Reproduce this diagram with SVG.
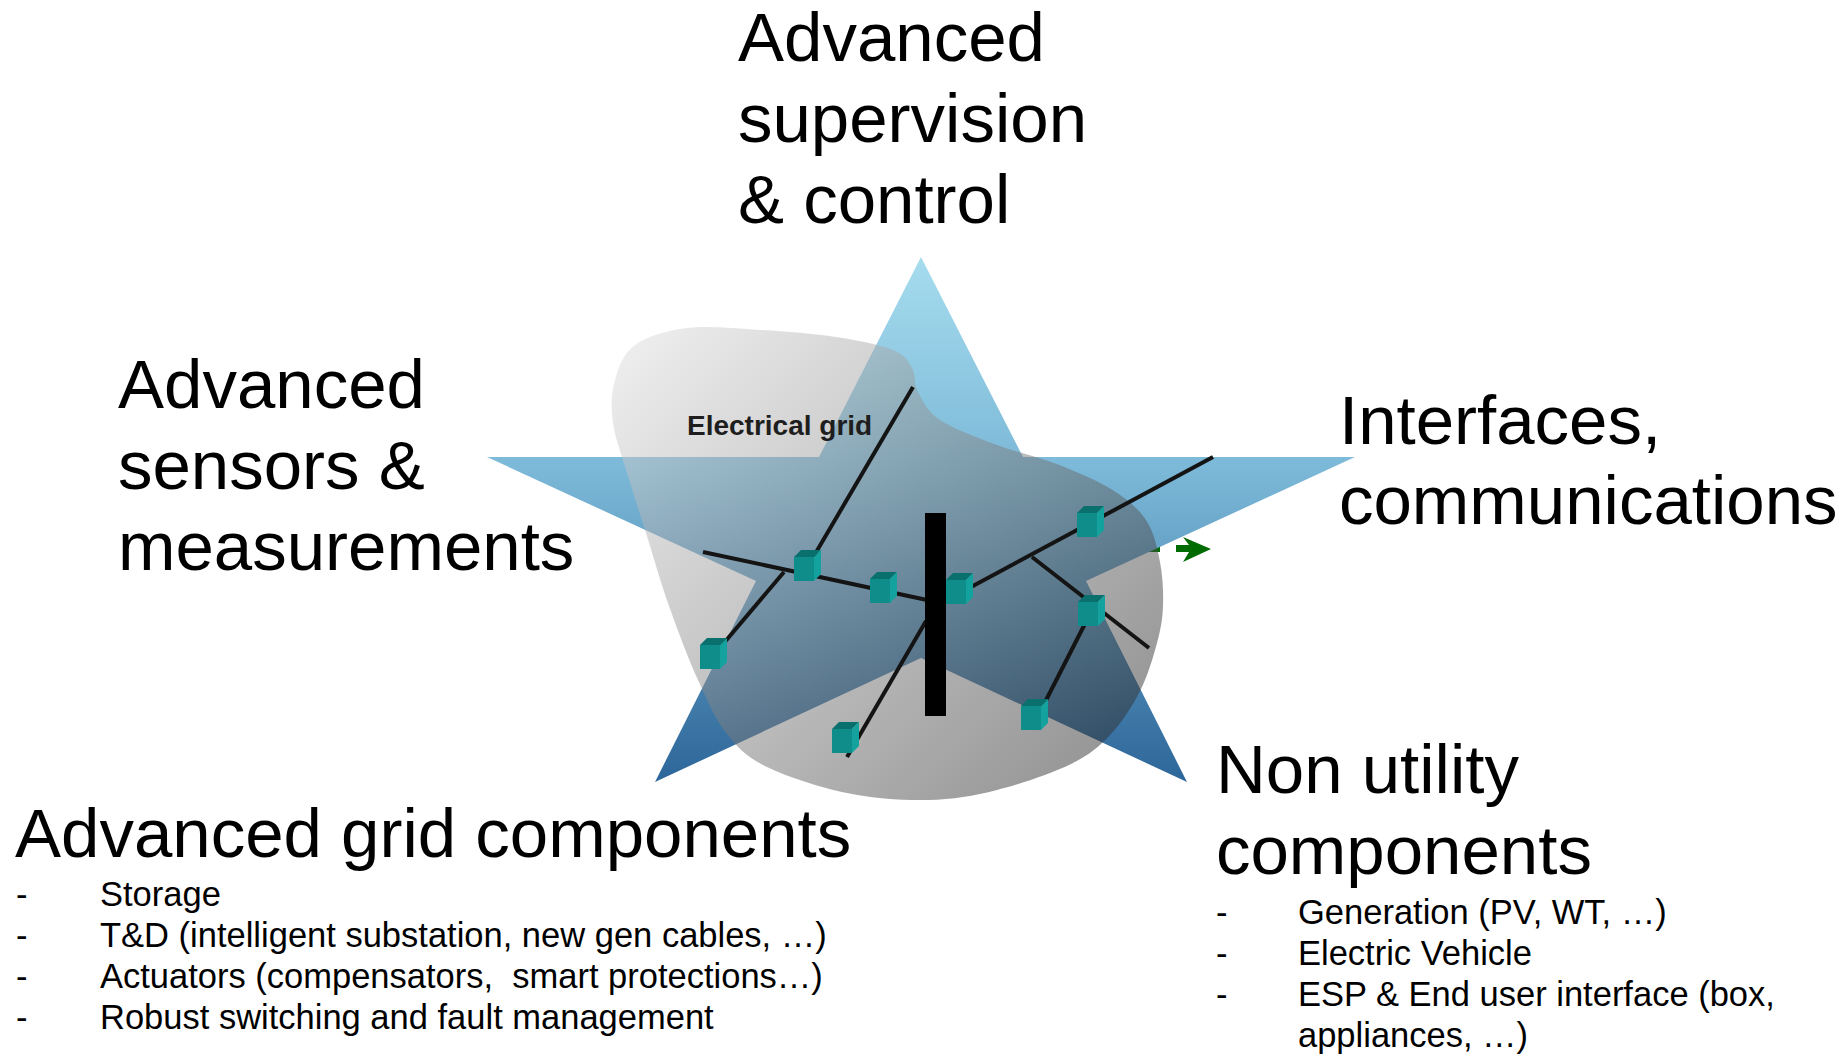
<svg xmlns="http://www.w3.org/2000/svg" width="1847" height="1056" viewBox="0 0 1847 1056">
  <defs>
    <style>
      .big { font-family: "Liberation Sans", Arial, sans-serif; font-size: 69px; fill: #000; }
      .item { font-family: "Liberation Sans", Arial, sans-serif; font-size: 34.5px; fill: #000; white-space: pre; }
      .tag { font-family: "Liberation Sans", Arial, sans-serif; font-size: 28px; font-weight: bold; fill: #1e1e1e; }
      .wire { stroke: #141414; stroke-width: 4; fill: none; }
    </style>
    <linearGradient id="starFill" gradientUnits="userSpaceOnUse" x1="0" y1="257" x2="0" y2="782">
      <stop offset="0" stop-color="#a6dcee"/>
      <stop offset="0.4" stop-color="#7cb9d8"/>
      <stop offset="1" stop-color="#2d6699"/>
    </linearGradient>
    <linearGradient id="blobFill" gradientUnits="userSpaceOnUse" x1="650" y1="330" x2="1110" y2="790">
      <stop offset="0" stop-color="#dadada"/>
      <stop offset="1" stop-color="#262626"/>
    </linearGradient>
    <!-- small 3D box used for every grid device -->
    <g id="cube">
      <polygon points="0,0 7,-7 27,-7 20,0" fill="#0a706d"/>
      <rect x="0" y="0" width="20" height="24" fill="#0f8d8a"/>
      <polygon points="20,0 27,-7 27,17 20,24" fill="#14a29e"/>
    </g>
  </defs>

  <rect width="1847" height="1056" fill="#fff"/>

  <!-- green flow arrow, partly hidden by the star -->
  <g id="flow-arrow" fill="#006b00">
    <rect x="1140" y="545" width="20" height="7"/>
    <polygon points="1176,545 1189,545 1183,537 1211,549 1183,562 1189,552 1176,552"/>
  </g>

  <!-- five-pointed star -->
  <g id="star">
    <polygon points="921,257 1023,457 1355,457 1086,581 1187,782 921,658 655,782 756,581 487,457 819,457" fill="url(#starFill)"/>
  </g>

  <!-- electrical grid area -->
  <g id="grid-area">
    <path fill="url(#blobFill)" fill-opacity="0.5" d="M687,328 C707.8,325.5 735.2,328.5 760,330 C784.8,331.5 813.8,333.7 836,337 C858.2,340.3 880.3,344.8 893,350 C905.7,355.2 907.8,361 912,368 C916.2,375 913.3,383.3 918,392 C922.7,400.7 926.8,411.2 940,420 C953.2,428.8 978,437.8 997,445 C1016,452.2 1035,455.7 1054,463 C1073,470.3 1095.7,479.5 1111,489 C1126.3,498.5 1137.8,507.8 1146,520 C1154.2,532.2 1157.2,547.7 1160,562 C1162.8,576.3 1163.5,592.5 1163,606 C1162.5,619.5 1160.8,628.8 1157,643 C1153.2,657.2 1147.7,675.8 1140,691 C1132.3,706.2 1122.5,721.8 1111,734 C1099.5,746.2 1090,754.7 1071,764 C1052,773.3 1020.8,784 997,790 C973.2,796 953,799.5 928,800 C903,800.5 873.8,798.5 847,793 C820.2,787.5 787,776.8 767,767 C747,757.2 738.5,748.5 727,734 C715.5,719.5 707.7,701.3 698,680 C688.3,658.7 677.7,630.5 669,606 C660.3,581.5 652.7,554.2 646,533 C639.3,511.8 634.5,497.3 629,479 C623.5,460.7 615.3,439.5 613,423 C610.7,406.5 611.3,393 615,380 C618.7,367 623,353.7 635,345 C647,336.3 666.2,330.5 687,328 Z"/>
    <text class="tag" x="687" y="435">Electrical grid</text>
  </g>

  <!-- feeder lines -->
  <g id="connectors" class="wire">
    <line x1="913" y1="387" x2="808" y2="566"/>
    <line x1="703" y1="552" x2="927" y2="600"/>
    <line x1="784" y1="572" x2="718" y2="650"/>
    <line x1="945" y1="601" x2="1213" y2="457"/>
    <line x1="1032" y1="557" x2="1149" y2="648"/>
    <line x1="1092" y1="610" x2="1040" y2="712"/>
    <line x1="926" y1="621" x2="847" y2="757"/>
  </g>

  <!-- main busbar -->
  <g id="busbar">
    <rect x="925" y="513" width="21" height="203" fill="#000"/>
  </g>

  <!-- grid devices -->
  <g id="device-1"><use href="#cube" x="794" y="557"/></g>
  <g id="device-2"><use href="#cube" x="870" y="579"/></g>
  <g id="device-3"><use href="#cube" x="946" y="580"/></g>
  <g id="device-4"><use href="#cube" x="700" y="645"/></g>
  <g id="device-5"><use href="#cube" x="832" y="729"/></g>
  <g id="device-6"><use href="#cube" x="1021" y="706"/></g>
  <g id="device-7"><use href="#cube" x="1078" y="602"/></g>
  <g id="device-8"><use href="#cube" x="1077" y="513"/></g>

  <!-- star point labels -->
  <g id="label-supervision">
    <text class="big" x="738" y="61">Advanced</text>
    <text class="big" x="738" y="142">supervision</text>
    <text class="big" x="738" y="223">&amp; control</text>
  </g>
  <g id="label-sensors">
    <text class="big" x="118" y="408">Advanced</text>
    <text class="big" x="118" y="489">sensors &amp;</text>
    <text class="big" x="118" y="570">measurements</text>
  </g>
  <g id="label-interfaces">
    <text class="big" x="1339" y="444">Interfaces,</text>
    <text class="big" x="1339" y="524">communications</text>
  </g>
  <g id="label-non-utility">
    <text class="big" x="1216" y="793">Non utility</text>
    <text class="big" x="1216" y="874">components</text>
    <text class="item" x="1216" y="924">-</text>
    <text class="item" x="1298" y="924">Generation (PV, WT, …)</text>
    <text class="item" x="1216" y="965">-</text>
    <text class="item" x="1298" y="965">Electric Vehicle</text>
    <text class="item" x="1216" y="1006">-</text>
    <text class="item" x="1298" y="1006">ESP &amp; End user interface (box,</text>
    <text class="item" x="1298" y="1047">appliances, …)</text>
  </g>
  <g id="label-grid-components">
    <text class="big" x="15" y="857">Advanced grid components</text>
    <text class="item" x="16" y="906">-</text>
    <text class="item" x="100" y="906">Storage</text>
    <text class="item" x="16" y="947">-</text>
    <text class="item" x="100" y="947">T&amp;D (intelligent substation, new gen cables, …)</text>
    <text class="item" x="16" y="988">-</text>
    <text class="item" x="100" y="988" xml:space="preserve">Actuators (compensators,  smart protections…)</text>
    <text class="item" x="16" y="1029">-</text>
    <text class="item" x="100" y="1029">Robust switching and fault management</text>
  </g>
</svg>
